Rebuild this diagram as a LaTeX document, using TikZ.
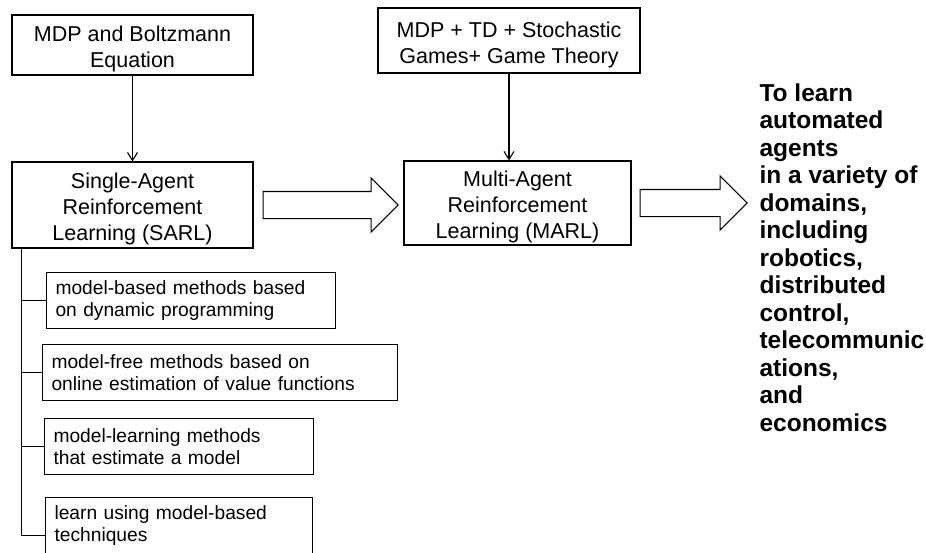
\documentclass[tikz,border=0pt]{standalone}
\usepackage{fontspec}
\setmainfont{Liberation Sans}
\usetikzlibrary{arrows.meta,shapes.arrows}

\newcommand\boxfont{\fontsize{21.5}{26}\selectfont}
\newcommand\subfont{\fontsize{19.2}{22}\selectfont}
\newcommand\goalfont{\fontsize{24.5}{27.5}\selectfont\bfseries}
\newcommand\topstrut{\rule{0pt}{24pt}}

\begin{document}
\begin{tikzpicture}
    [x=1pt, y=-1pt, line width=1.1pt, every node/.style={line width=1.1pt}]
    \tikzset{box/.style = {draw, align=center, font=\boxfont, inner sep=0pt},
             subbox/.style = {draw, anchor=north west, align=left, font=\subfont,
                              minimum height=56pt, inner xsep=9pt, inner ysep=0pt},
             blockarrow/.style = {draw, single arrow, single arrow head extend=13.5pt,
                                  inner xsep=0pt, inner ysep=13pt, anchor=tail},
             link/.style = {-{Straight Barb[length=8pt,width=10pt]}}}
    \clip (0,0) rectangle (926,552);

    \node[box, minimum width=241pt, minimum height=60pt] (boltz) at (132.5,45) {\topstrut MDP and Boltzmann\\Equation};
    \node[box, minimum width=241pt, minimum height=86pt] (sarl) at (132.5,205) {\topstrut Single-Agent\\Reinforcement\\Learning (SARL)};
    \node[box, minimum width=262pt, minimum height=65pt] (games) at (509,40.5) {\topstrut MDP + TD + Stochastic\\Games+ Game Theory};
    \node[box, minimum width=227pt, minimum height=84pt] (marl) at (517.5,203) {\topstrut Multi-Agent\\Reinforcement\\Learning (MARL)};

    \node[subbox, text width=271pt] (m1) at (46,272) {model-based methods based\\on dynamic programming};
    \node[subbox, text width=337pt] (m2) at (42,344) {model-free methods based on\\online estimation of value functions};
    \node[subbox, text width=251pt] (m3) at (44,418) {model-learning methods\\that estimate a model};
    \node[subbox, text width=249pt] (m4) at (45,497) {learn using model-based\\techniques};

    \node[anchor=north west, align=left, font=\goalfont, inner sep=0pt] (goal) at (759,83)
        {To learn\\automated\\agents\\in a variety of\\domains,\\including\\robotics,\\distributed\\control,\\telecommunic\\ations,\\and\\economics};

    \draw[link] (boltz) -- (sarl);
    \draw[link] (games.south) -- (games.south |- marl.north);

    \node[blockarrow, minimum height=135pt] (ar1) at ([xshift=9pt]sarl.east) {};
    \node[blockarrow, minimum height=107pt] (ar2) at ([xshift=8pt]marl.east) {};

    % SARL branches
    \coordinate (trunk) at ([xshift=10pt]sarl.south west);
    \draw (trunk) |- ([yshift=-10pt]m4.west);
    \foreach \m in {m1,m2,m3}
        \draw (trunk |- \m.west) -- (\m.west);
\end{tikzpicture}
\end{document}
